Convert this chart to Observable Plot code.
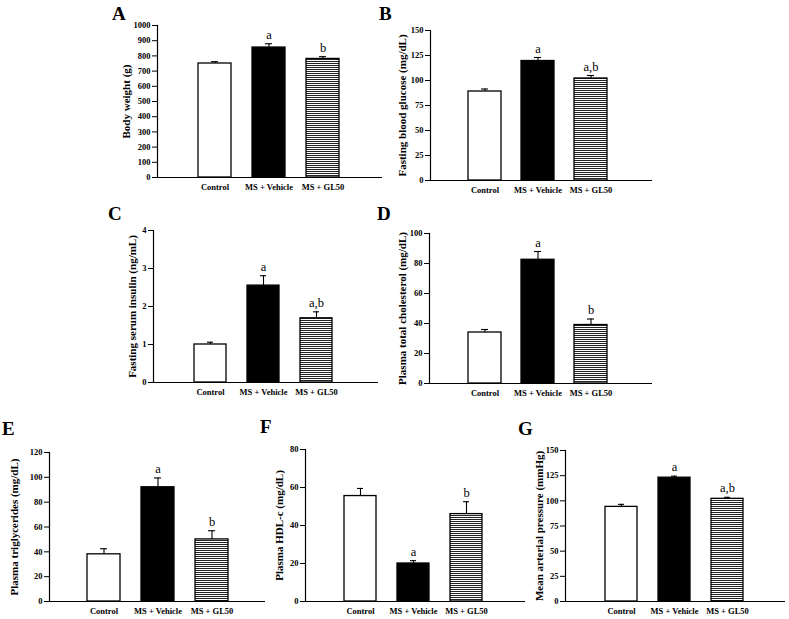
<!DOCTYPE html>
<html><head><meta charset="utf-8">
<script src="https://cdn.jsdelivr.net/npm/d3@7"></script>
<script src="https://cdn.jsdelivr.net/npm/@observablehq/plot@0.6"></script>
<style>
body{margin:0;background:#fff;}
#root{position:relative;width:789px;height:619px;overflow:hidden;font-family:"Liberation Serif",serif;}
.panel{position:absolute;}
.letter{position:absolute;font:bold 19px "Liberation Serif",serif;line-height:1;color:#000;}
</style></head><body>
<svg width="0" height="0" style="position:absolute"><defs>
<pattern id="stripes" patternUnits="userSpaceOnUse" width="4" height="2"><rect width="4" height="2" fill="#fff"/><rect width="4" height="1" fill="#222"/></pattern>
</defs></svg>
<div id="root"></div>
<script>
const groups = ["Control", "MS + Vehicle", "MS + GL50"];
const fills = ["#fff", "#000", "url(#stripes)"];

const bodyWeight = [750, 855, 780];
const bodyWeightErr = [12, 25, 15];
const bodyWeightSig = ["", "a", "b"];
const bodyWeightTicks = [0, 100, 200, 300, 400, 500, 600, 700, 800, 900, 1000];

const glucose = [89, 119.5, 102];
const glucoseErr = [2.5, 3.5, 3];
const glucoseSig = ["", "a", "a,b"];
const glucoseTicks = [0, 25, 50, 75, 100, 125, 150];

const insulin = [1.0, 2.55, 1.69];
const insulinErr = [0.06, 0.26, 0.17];
const insulinSig = ["", "a", "a,b"];
const insulinTicks = [0, 1, 2, 3, 4];

const cholesterol = [34, 82.5, 39];
const cholesterolErr = [2, 5.5, 4];
const cholesterolSig = ["", "a", "b"];
const cholesterolTicks = [0, 20, 40, 60, 80, 100];

const triglycerides = [38, 92, 50];
const triglyceridesErr = [4.5, 7.5, 7];
const triglyceridesSig = ["", "a", "b"];
const triglyceridesTicks = [0, 20, 40, 60, 80, 100, 120];

const hdl = [55.5, 20, 46];
const hdlErr = [4, 1.5, 6.5];
const hdlSig = ["", "a", "b"];
const hdlTicks = [0, 20, 40, 60, 80];

const pressure = [94, 123, 102];
const pressureErr = [2.5, 1.5, 1.5];
const pressureSig = ["", "a", "a,b"];
const pressureTicks = [0, 25, 50, 75, 100, 125, 150];

const panels = [
  {letter: "A", mean: bodyWeight, err: bodyWeightErr, sig: bodyWeightSig, ticks: bodyWeightTicks, label: "Body weight (g)",
   lay: {x0: 157, x1: 382, yTop: 25, yBot: 177, c0: 213.5, step: 54.5, labelDist: 30, lx: 112, ly: 4}},
  {letter: "B", mean: glucose, err: glucoseErr, sig: glucoseSig, ticks: glucoseTicks, label: "Fasting blood glucose (mg/dL)",
   lay: {x0: 430, x1: 652, yTop: 30, yBot: 180, c0: 483.5, step: 53.5, labelDist: 27, lx: 379, ly: 4}},
  {letter: "C", mean: insulin, err: insulinErr, sig: insulinSig, ticks: insulinTicks, label: "Fasting serum insulin (ng/mL)",
   lay: {x0: 153, x1: 378, yTop: 230, yBot: 382, c0: 209.5, step: 54, labelDist: 20, lx: 108, ly: 204}},
  {letter: "D", mean: cholesterol, err: cholesterolErr, sig: cholesterolSig, ticks: cholesterolTicks, label: "Plasma total cholesterol (mg/dL)",
   lay: {x0: 429, x1: 652, yTop: 233, yBot: 383, c0: 483.5, step: 53.5, labelDist: 26, lx: 377, ly: 204}},
  {letter: "E", mean: triglycerides, err: triglyceridesErr, sig: triglyceridesSig, ticks: triglyceridesTicks, label: "Plasma triglycerides (mg/dL)",
   lay: {x0: 49, x1: 265, yTop: 452, yBot: 601, c0: 103, step: 54, labelDist: 34, lx: 2, ly: 419}},
  {letter: "F", mean: hdl, err: hdlErr, sig: hdlSig, ticks: hdlTicks, label: "Plasma HDL-c (mg/dL)",
   lay: {x0: 305, x1: 525, yTop: 449, yBot: 601, c0: 359.5, step: 54, labelDist: 25, lx: 260, ly: 417}},
  {letter: "G", mean: pressure, err: pressureErr, sig: pressureSig, ticks: pressureTicks, label: "Mean arterial pressure (mmHg)",
   lay: {x0: 565, x1: 785, yTop: 450, yBot: 601, c0: 620.5, step: 54, labelDist: 25, lx: 518, ly: 419}}
];

const root = document.getElementById("root");
const BW = 33, CAP = 7;
const mL = 64, mR = 4, mT = 20, mB = 26;

for (const p of panels) {
  const L = p.lay;
  const W = L.x1 - L.x0, n = groups.length;
  const pI = 1 - BW / L.step;
  const pO = (W / L.step - (n - pI)) / 2;
  const gapL = L.c0 - BW / 2 - L.x0;
  const align = gapL / (W - L.step * (n - pI));
  const data = groups.map((g, i) => ({g, v: p.mean[i], e: p.err[i], s: p.sig[i], f: fills[i]}));
  const ymax = p.ticks[p.ticks.length - 1];
  const chart = Plot.plot({
    width: W + mL + mR,
    height: (L.yBot - L.yTop) + mT + mB,
    marginLeft: mL, marginRight: mR, marginTop: mT, marginBottom: mB,
    style: {fontFamily: '"Liberation Serif", serif', background: "transparent", color: "#000", overflow: "visible"},
    x: {domain: groups, paddingInner: pI, paddingOuter: pO, align: Math.max(0, Math.min(1, align)), label: null},
    y: {domain: [0, ymax], label: null},
    color: {type: "identity"},
    marks: [
      Plot.ruleX(data, {x: "g", y1: "v", y2: d => d.v + d.e, stroke: "#000", strokeWidth: 1.1}),
      Plot.tickY(data, {x: "g", y: d => d.v + d.e, inset: (BW - CAP) / 2, stroke: "#000", strokeWidth: 1.1}),
      Plot.barY(data, {x: "g", y: "v", fill: "f", stroke: "#000", strokeWidth: 1.3}),
      Plot.text(data, {x: "g", y: d => d.v + d.e, text: "s", lineAnchor: "bottom", dy: -5, fontSize: 12.5, fill: "#000"}),
      Plot.axisY({ticks: p.ticks, tickSize: 5, tickPadding: 2, fontSize: 8.5, fontWeight: "bold",
        label: p.label, labelAnchor: "center", labelArrow: "none", labelOffset: L.labelDist + 5, tickFormat: d => String(d)}),
      Plot.axisX({tickSize: 0, tickPadding: 6, fontSize: 8.5, fontWeight: "bold", label: null}),
      Plot.ruleY([0], {stroke: "#000", strokeWidth: 1.2}),
      Plot.frame({anchor: "left", stroke: "#000", strokeWidth: 1.2})
    ]
  });
  chart.querySelectorAll("g[aria-label='y-axis label'] text").forEach(t => {
    t.style.fontSize = "11px"; t.style.fontWeight = "bold";
  });
  chart.classList.add("panel");
  chart.style.left = (L.x0 - mL) + "px";
  chart.style.top = (L.yTop - mT) + "px";
  root.appendChild(chart);
  const lt = document.createElement("div");
  lt.className = "letter";
  lt.textContent = p.letter;
  lt.style.left = L.lx + "px";
  lt.style.top = L.ly + "px";
  root.appendChild(lt);
}
</script>
</body></html>
